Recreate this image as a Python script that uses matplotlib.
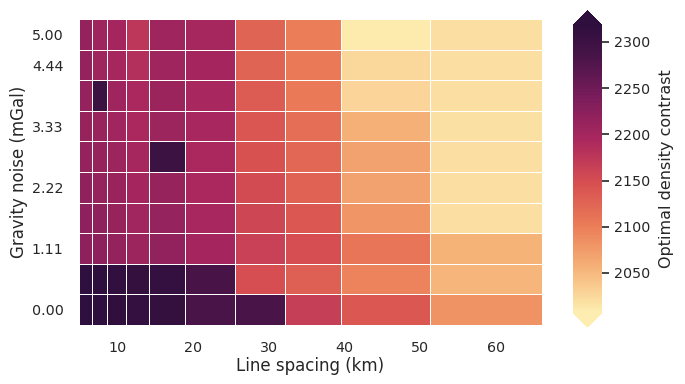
import numpy as np
import matplotlib
matplotlib.use("Agg")
import matplotlib.pyplot as plt
from matplotlib.colors import LinearSegmentedColormap

# line spacing (km), cell centres
spacing = [5.8, 7.5, 9.7, 12.5, 15.9, 22.1, 29.1, 35.3, 43.9, 58.7]
# gravity noise (mGal)
noise = [0.00, 0.56, 1.11, 1.67, 2.22, 2.78, 3.33, 3.89, 4.44, 5.00]
noise_ticks = [0.00, 1.11, 2.22, 3.33, 4.44, 5.00]
noise_tick_labels = ["0.00", "1.11", "2.22", "3.33", "4.44", "5.00"]
cbar_ticks = [2050, 2100, 2150, 2200, 2250, 2300]

# optimal density contrast, rows from noise 0.00 up to 5.00
density = [
    [2318, 2322, 2316, 2312, 2310, 2283, 2283, 2165, 2138, 2082],
    [2318, 2320, 2315, 2310, 2313, 2285, 2148, 2130, 2095, 2052],
    [2222, 2222, 2216, 2207, 2218, 2200, 2163, 2148, 2108, 2055],
    [2222, 2220, 2213, 2203, 2214, 2196, 2158, 2138, 2080, 2020],
    [2220, 2214, 2211, 2200, 2213, 2193, 2152, 2128, 2070, 2020],
    [2215, 2213, 2207, 2198, 2300, 2193, 2145, 2122, 2070, 2020],
    [2213, 2212, 2203, 2195, 2207, 2196, 2140, 2115, 2058, 2018],
    [2215, 2300, 2205, 2195, 2208, 2196, 2135, 2105, 2028, 2020],
    [2215, 2205, 2198, 2185, 2205, 2200, 2125, 2105, 2025, 2020],
    [2215, 2205, 2200, 2175, 2205, 2198, 2125, 2100, 2010, 2020],
]
vmin, vmax = 2007, 2318

# approximation of cmocean "matter"
matter = LinearSegmentedColormap.from_list("matter", [
    (0.00, "#fdedb0"),
    (0.15, "#f6b479"),
    (0.30, "#eb7d58"),
    (0.45, "#d74f51"),
    (0.60, "#ab285e"),
    (0.75, "#7a1c5c"),
    (0.90, "#461447"),
    (1.00, "#2f0f3d"),
])

text_color = "#262626"
plt.rcParams["font.family"] = "DejaVu Sans"
plt.rcParams["text.color"] = text_color
plt.rcParams["axes.labelcolor"] = text_color
plt.rcParams["xtick.color"] = text_color
plt.rcParams["ytick.color"] = text_color

fig = plt.figure(figsize=(6.85, 3.84), dpi=100)
ax = fig.add_axes([0.1153, 0.1529, 0.6759, 0.7984])

mesh = ax.pcolormesh(spacing, noise, np.array(density), cmap=matter,
                     vmin=vmin, vmax=vmax, shading="nearest",
                     edgecolor="white", linewidth=0.6)

for s in ax.spines.values():
    s.set_visible(False)
ax.set_xticks([10, 20, 30, 40, 50, 60])
ax.set_yticks(noise_ticks)
ax.set_yticklabels(noise_tick_labels)
ax.tick_params(length=0, labelsize=10.3, pad=11)
ax.set_xlabel("Line spacing (km)", fontsize=12, labelpad=2)
ax.set_ylabel("Gravity noise (mGal)", fontsize=12, labelpad=3)

cax = fig.add_axes([0.8365, 0.1484, 0.0423, 0.823])
cbar = fig.colorbar(mesh, cax=cax, extend="both", ticks=cbar_ticks)
cbar.outline.set_visible(False)
cbar.ax.tick_params(length=5, width=1.2, labelsize=10.3, pad=4, color=text_color)
cbar.set_label("Optimal density contrast", fontsize=11.5, labelpad=6)

fig.savefig("out.png", dpi=100)
